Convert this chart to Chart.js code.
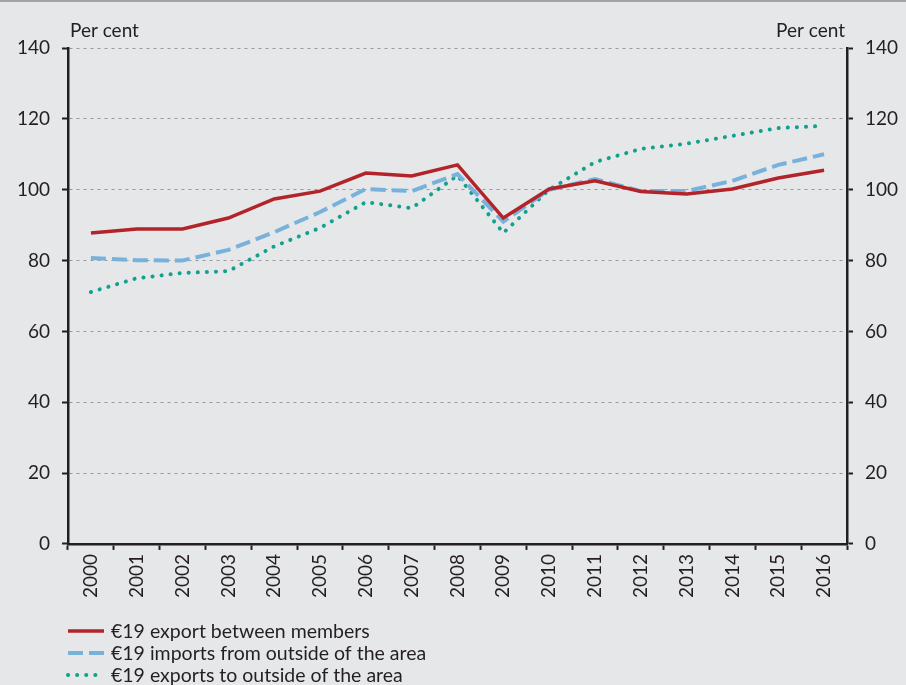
<!DOCTYPE html>
<html>
<head>
<meta charset="utf-8">
<script src="https://cdn.jsdelivr.net/npm/chart.js@4"></script>
<style>
  html, body { margin: 0; padding: 0; background: #e6e7e9; }
  #wrap { width: 906px; height: 683px; border-top: 2px solid #a3a4a6; position: relative; }
</style>
</head>
<body>
<div id="wrap"><canvas id="tradeChart" width="906" height="683"></canvas></div>
<script>
const years = ["2000", "2001", "2002", "2003", "2004", "2005", "2006", "2007", "2008",
  "2009", "2010", "2011", "2012", "2013", "2014", "2015", "2016"];

const exportBetween = [87.8, 88.9, 88.9, 92, 97.4, 99.6, 104.7, 103.9, 107, 92, 100.2, 102.5, 99.5, 98.8, 100.2, 103.3, 105.5];
const importsOutside = [80.7, 80.1, 80, 83, 88, 93.7, 100.2, 99.6, 104.4, 91, 100, 103, 99.6, 99.6, 102.5, 107, 110];
const exportsOutside = [71.1, 75, 76.5, 77, 84, 89.2, 96.5, 94.8, 104, 87.8, 100, 107.8, 111.5, 113, 115.2, 117.4, 118];

const seriesNames = [
  "€19 export between members",
  "€19 imports from outside of the area",
  "€19 exports to outside of the area",
];

const FONT = "Lato";
const TEXT = "#231f20";

// "Per cent" labels over both axes + legend below the axis labels
const extras = {
  id: "extras",
  afterDraw(chart) {
    const { ctx, chartArea } = chart;
    ctx.save();
    ctx.fillStyle = TEXT;
    ctx.font = "19px " + FONT;
    ctx.textBaseline = "alphabetic";
    ctx.textAlign = "left";
    ctx.fillText("Per cent", chartArea.left + 2, chartArea.top - 11);
    ctx.textAlign = "right";
    ctx.fillText("Per cent", chartArea.right - 2, chartArea.top - 11);

    ctx.font = "19.5px " + FONT;
    ctx.textAlign = "left";
    ctx.textBaseline = "middle";
    chart.data.datasets.forEach((ds, i) => {
      const y = 629 + i * 22;
      ctx.beginPath();
      ctx.lineWidth = ds.borderWidth;
      ctx.strokeStyle = ds.borderColor;
      ctx.lineCap = ds.borderCapStyle || "butt";
      ctx.setLineDash(ds.borderDash || []);
      ctx.moveTo(chartArea.left, y);
      ctx.lineTo(chartArea.left + 36, y);
      ctx.stroke();
      ctx.setLineDash([]);
      ctx.fillText(ds.label, chartArea.left + 43, y + 1);
    });
    ctx.restore();
  },
};

const yTicks = {
  color: TEXT,
  font: { family: FONT, size: 19 },
  stepSize: 20,
  padding: 12,
};

new Chart(document.getElementById("tradeChart"), {
  type: "line",
  data: {
    labels: years,
    datasets: [
      {
        label: seriesNames[0],
        data: exportBetween,
        borderColor: "#b3242a",
        borderWidth: 3.5,
        pointRadius: 0,
        tension: 0,
      },
      {
        label: seriesNames[1],
        data: importsOutside,
        borderColor: "#78b2dc",
        borderWidth: 4,
        borderDash: [15, 6],
        pointRadius: 0,
        tension: 0,
      },
      {
        label: seriesNames[2],
        data: exportsOutside,
        borderColor: "#12a08f",
        borderWidth: 4,
        borderDash: [0.1, 9],
        borderCapStyle: "round",
        pointRadius: 0,
        tension: 0,
      },
    ],
  },
  options: {
    responsive: false,
    animation: false,
    layout: { padding: { left: 0, right: 0, top: 46, bottom: 83 } },
    plugins: { legend: { display: false }, tooltip: { enabled: false } },
    scales: {
      x: {
        offset: true,
        grid: {
          offset: true,
          drawOnChartArea: false,
          tickColor: "#231f20",
          tickLength: 6,
          tickWidth: 2,
        },
        border: { color: "#231f20", width: 2.5 },
        ticks: {
          color: TEXT,
          font: { family: FONT, size: 19 },
          minRotation: 90,
          maxRotation: 90,
          padding: 4,
          autoSkip: false,
        },
      },
      y: {
        position: "left",
        min: 0,
        max: 140,
        ticks: yTicks,
        afterFit: (s) => { s.width = 68; },
        grid: {
          color: (c) => (c.tick && c.tick.value === 0 ? "rgba(0,0,0,0)" : "#9a9a9a"),
          lineWidth: 1,
          tickColor: "#231f20",
          tickLength: 6,
          tickWidth: 2,
        },
        border: { color: "#231f20", width: 2.5, dash: [3, 4] },
      },
      y2: {
        position: "right",
        min: 0,
        max: 140,
        ticks: yTicks,
        afterFit: (s) => { s.width = 59; },
        grid: {
          drawOnChartArea: false,
          tickColor: "#231f20",
          tickLength: 6,
          tickWidth: 2,
        },
        border: { color: "#231f20", width: 2.5 },
      },
    },
  },
  plugins: [extras],
});
</script>
</body>
</html>
